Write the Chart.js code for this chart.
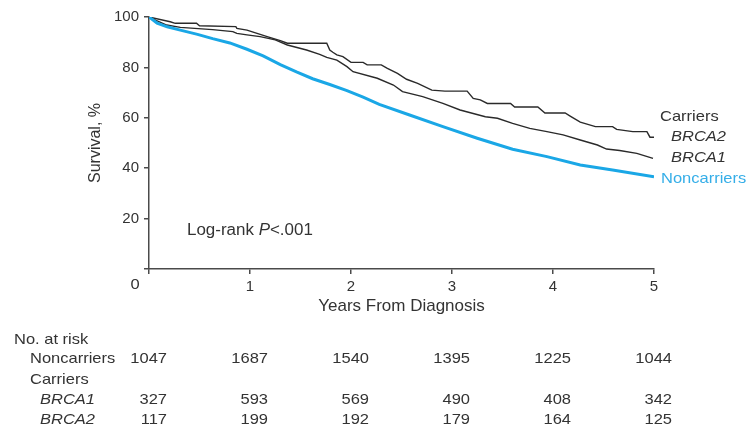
<!DOCTYPE html>
<html>
<head>
<meta charset="utf-8">
<script src="https://cdn.jsdelivr.net/npm/chart.js@4.4.1/dist/chart.umd.min.js"></script>
<style>
  html, body { margin: 0; padding: 0; background: #fff; }
  #wrap { width: 747px; height: 429px; position: relative; }
</style>
</head>
<body>
<div id="wrap"><canvas id="c"></canvas></div>
<script>
// ---- Data ----
const xTicks = [0, 1, 2, 3, 4, 5];
const yTicks = [0, 20, 40, 60, 80, 100];

const noncarrierYears = [0, 0.08, 0.18, 0.31, 0.48, 0.63, 0.80, 0.97, 1.13, 1.30, 1.46, 1.62, 1.79, 1.96, 2.12, 2.28, 2.58, 2.91, 3.25, 3.60, 3.94, 4.27, 4.59, 5.0];
const noncarrierSurv  = [100, 97.6, 96.1, 94.8, 93.1, 91.4, 89.7, 87.2, 84.6, 81.1, 78.2, 75.5, 73.2, 70.8, 68.2, 65.3, 61.1, 56.5, 51.9, 47.5, 44.6, 41.3, 39.3, 36.6];

const brca1Years = [0, 0.08, 0.175, 0.31, 0.63, 0.83, 0.87, 0.97, 1.10, 1.25, 1.37, 1.56, 1.69, 1.76, 1.86, 1.96, 2.02, 2.26, 2.42, 2.51, 2.71, 2.91, 3.08, 3.33, 3.45, 3.60, 3.77, 3.94, 4.10, 4.27, 4.44, 4.53, 4.66, 4.83, 4.99];
const brca1Surv  = [100, 98.5, 96.8, 95.9, 95.0, 94.2, 93.5, 92.9, 92.2, 90.9, 88.9, 86.9, 85.2, 84.0, 82.9, 80.3, 78.3, 75.7, 73.0, 70.4, 68.4, 65.7, 63.1, 60.4, 59.8, 57.8, 55.8, 54.5, 53.2, 51.2, 49.2, 47.6, 47.0, 45.9, 43.9];

const brca2Years = [0, 0.21, 0.26, 0.47, 0.50, 0.86, 0.87, 0.97, 1.07, 1.17, 1.30, 1.37, 1.76, 1.79, 1.82, 1.86, 1.92, 2.00, 2.12, 2.16, 2.30, 2.36, 2.46, 2.55, 2.66, 2.80, 2.93, 3.15, 3.21, 3.28, 3.35, 3.58, 3.62, 3.85, 3.92, 4.12, 4.17, 4.27, 4.42, 4.59, 4.63, 4.79, 4.93, 4.96, 5.0];
const brca2Surv  = [100, 98.1, 97.5, 97.5, 96.5, 96.2, 95.5, 94.8, 93.5, 92.2, 90.6, 89.6, 89.6, 86.9, 86.0, 85.0, 84.3, 82.0, 82.0, 81.0, 81.0, 79.6, 77.6, 75.3, 73.7, 71.0, 70.6, 70.6, 67.7, 67.1, 65.7, 65.7, 64.3, 64.3, 61.9, 61.9, 60.7, 58.3, 56.5, 56.5, 55.4, 54.5, 54.5, 52.3, 52.3];

const riskGroups = ['Noncarriers', 'BRCA1', 'BRCA2'];
const riskNoncarriers = [1047, 1687, 1540, 1395, 1225, 1044];
const riskBrca1 = [327, 593, 569, 490, 408, 342];
const riskBrca2 = [117, 199, 192, 179, 164, 125];

const pValueText = '<.001';

// ---- helpers ----
const FONT = '"Liberation Sans", Arial, Helvetica, sans-serif';
const TXT = '#333333';
const BLUE = '#1aa7e6';
const toPts = (xs, ys) => xs.map((x, i) => ({ x: x, y: ys[i] }));

function txt(ctx, s, x, y, o) {
  o = o || {};
  const size = o.size || 15, sx = o.sx || 1.1;
  ctx.save();
  ctx.font = (o.italic ? 'italic ' : '') + size + 'px ' + FONT;
  ctx.fillStyle = o.color || TXT;
  ctx.textBaseline = 'middle';
  ctx.textAlign = 'left';
  const w = ctx.measureText(s).width * sx;
  let x0 = x;
  if (o.align === 'right') x0 = x - w;
  else if (o.align === 'center') x0 = x - w / 2;
  ctx.translate(x0, y);
  ctx.scale(sx, 1);
  ctx.fillText(s, 0, 0);
  ctx.restore();
  return w;
}

const annotations = {
  id: 'annotations',
  afterDraw(chart) {
    const ctx = chart.ctx;
    const xs = chart.scales.x;
    // shared origin label
    txt(ctx, '0', xs.getPixelForValue(0) - 14, 285, { size: 15, align: 'center' });
    // curve labels
    txt(ctx, 'Carriers', 660, 117, { size: 15 });
    txt(ctx, 'BRCA2', 671, 137, { size: 15, italic: true });
    txt(ctx, 'BRCA1', 671, 158, { size: 15, italic: true });
    txt(ctx, 'Noncarriers', 661, 179, { size: 15, color: '#35aee8' });
    // log-rank
    let x = 187;
    x += txt(ctx, 'Log-rank ', x, 231, { size: 16, sx: 1.06 });
    x += txt(ctx, 'P', x, 231, { size: 16, sx: 1.06, italic: true });
    txt(ctx, pValueText, x, 231, { size: 16, sx: 1.06 });
    // risk table
    txt(ctx, 'No. at risk', 14, 340, { size: 15 });
    txt(ctx, riskGroups[0], 30, 359, { size: 15 });
    txt(ctx, 'Carriers', 30, 380, { size: 15 });
    txt(ctx, riskGroups[1], 40, 400, { size: 15, italic: true });
    txt(ctx, riskGroups[2], 40, 420, { size: 15, italic: true });
    const rows = [[riskNoncarriers, 359], [riskBrca1, 400], [riskBrca2, 420]];
    rows.forEach(([vals, y]) => {
      vals.forEach((v, i) => {
        txt(ctx, String(v), xs.getPixelForValue(xTicks[i]) + 18, y, { size: 15, align: 'right' });
      });
    });
  }
};

const axisColor = '#4a4a4a';

new Chart(document.getElementById('c'), {
  type: 'line',
  data: {
    datasets: [
      { label: 'Noncarriers', data: toPts(noncarrierYears, noncarrierSurv), borderColor: BLUE, borderWidth: 3, pointRadius: 0, tension: 0, fill: false },
      { label: 'BRCA1', data: toPts(brca1Years, brca1Surv), borderColor: '#2a2a2a', borderWidth: 1.4, pointRadius: 0, tension: 0, fill: false },
      { label: 'BRCA2', data: toPts(brca2Years, brca2Surv), borderColor: '#2a2a2a', borderWidth: 1.4, pointRadius: 0, tension: 0, fill: false }
    ]
  },
  options: {
    responsive: true,
    maintainAspectRatio: false,
    animation: false,
    events: [],
    layout: { padding: { left: 0, right: 93, top: 17, bottom: 0 } },
    plugins: { legend: { display: false }, tooltip: { enabled: false } },
    scales: {
      x: {
        type: 'linear', min: xTicks[0], max: xTicks[xTicks.length - 1],
        afterBuildTicks: s => { s.ticks = xTicks.map(v => ({ value: v })); },
        afterFit: s => { s.height = 160; },
        border: { display: true, color: axisColor, width: 1.5 },
        grid: { drawOnChartArea: false, drawTicks: true, tickLength: 5, color: axisColor, lineWidth: 1.5 },
        ticks: { color: TXT, padding: 4, font: { family: FONT, size: 15 }, callback: v => v === 0 ? '' : String(v), maxRotation: 0 },
        title: { display: true, text: 'Years From Diagnosis', color: TXT, font: { family: FONT, size: 17 }, padding: { top: 0, bottom: 112 } }
      },
      y: {
        type: 'linear', min: yTicks[0], max: yTicks[yTicks.length - 1],
        afterBuildTicks: s => { s.ticks = yTicks.map(v => ({ value: v })); },
        afterFit: s => { s.width = 149; },
        border: { display: true, color: axisColor, width: 1.5 },
        grid: { drawOnChartArea: false, drawTicks: true, tickLength: 5, color: axisColor, lineWidth: 1.5 },
        ticks: { color: TXT, padding: 5, font: { family: FONT, size: 15 }, callback: v => v === 0 ? '' : String(v) },
        title: { display: true, text: 'Survival, %', color: TXT, font: { family: FONT, size: 16 }, padding: { top: 86, bottom: 0 } }
      }
    }
  },
  plugins: [annotations]
});
</script>
</body>
</html>
